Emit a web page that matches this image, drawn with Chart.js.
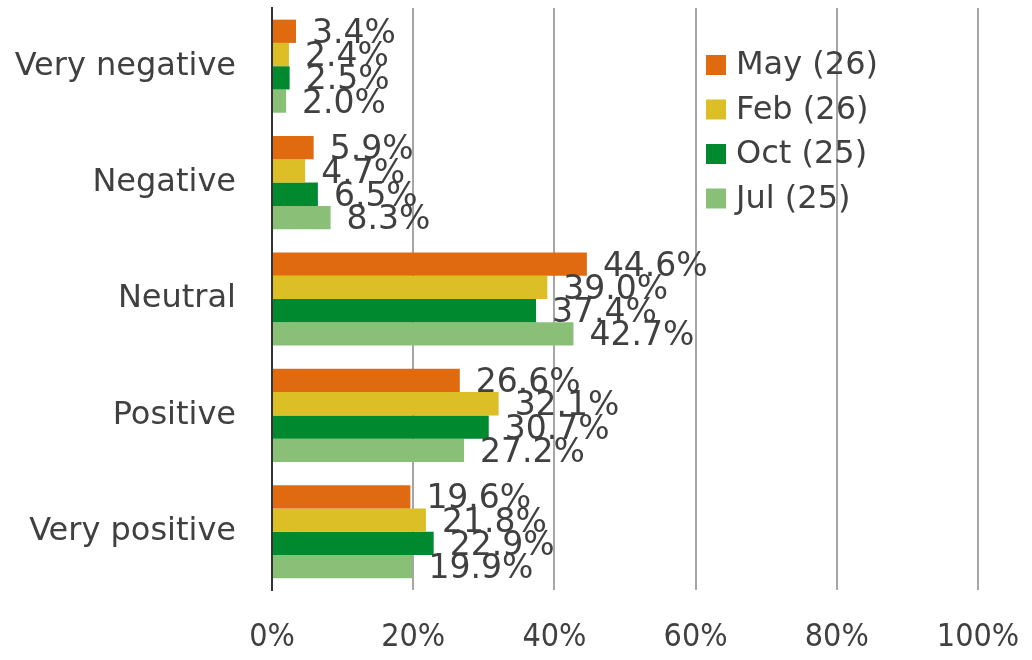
<!DOCTYPE html>
<html>
<head>
<meta charset="utf-8">
<script src="https://cdn.jsdelivr.net/npm/chart.js@4"></script>
<style>
  html, body { margin: 0; padding: 0; background: #fff; }
  #wrap { width: 1032px; height: 660px; }
</style>
</head>
<body>
<div id="wrap"><canvas id="myChart" width="1032" height="660"></canvas></div>
<script>
var categories = ['Very negative', 'Negative', 'Neutral', 'Positive', 'Very positive'];
var seriesNames = ['May (26)', 'Feb (26)', 'Oct (25)', 'Jul (25)'];
var may = [3.4, 5.9, 44.6, 26.6, 19.6];
var feb = [2.4, 4.7, 39.0, 32.1, 21.8];
var oct = [2.5, 6.5, 37.4, 30.7, 22.9];
var jul = [2.0, 8.3, 42.7, 27.2, 19.9];
var xTickValues = [0, 20, 40, 60, 80, 100];

var colors = ['#E06A10', '#DCBE26', '#00892F', '#8ABF78'];
var textColor = '#404040';

// value labels at the end of each bar
var barLabels = {
    id: 'barLabels',
    afterDatasetsDraw: function(chart) {
        var ctx = chart.ctx;
        ctx.save();
        ctx.font = '33px "DejaVu Sans"';
        ctx.fillStyle = textColor;
        ctx.textAlign = 'left';
        ctx.textBaseline = 'middle';
        chart.data.datasets.forEach(function(ds, i) {
            var meta = chart.getDatasetMeta(i);
            meta.data.forEach(function(el, j) {
                ctx.fillText(ds.data[j].toFixed(1) + '%', el.x + 16, el.y + 3);
            });
        });
        ctx.restore();
    }
};

// legend drawn inside the plot, top right
var insideLegend = {
    id: 'insideLegend',
    afterDraw: function(chart) {
        var ctx = chart.ctx;
        ctx.save();
        ctx.font = '32px "DejaVu Sans"';
        ctx.textAlign = 'left';
        ctx.textBaseline = 'middle';
        chart.data.datasets.forEach(function(ds, i) {
            var y = 65 + i * 44.5;
            ctx.fillStyle = ds.backgroundColor;
            ctx.fillRect(706, y - 10, 20, 20);
            ctx.fillStyle = textColor;
            ctx.fillText(ds.label, 736, y + 1);
        });
        ctx.restore();
    }
};

function noPad(scale) {
    scale.paddingTop = 0;
    scale.paddingBottom = 0;
    scale.paddingLeft = 0;
    scale.paddingRight = 0;
}

var seriesData = [may, feb, oct, jul];
var datasets = [];
for (var i = 0; i < seriesNames.length; i++) {
    datasets.push({
        label: seriesNames[i],
        data: seriesData[i],
        backgroundColor: colors[i],
        borderWidth: 0,
        barPercentage: 1,
        categoryPercentage: 0.8
    });
}

var ctx = document.getElementById('myChart').getContext('2d');
var chart = new Chart(ctx, {
    type: 'bar',
    data: {
        labels: categories,
        datasets: datasets
    },
    options: {
        indexAxis: 'y',
        responsive: false,
        animation: false,
        layout: { padding: { top: 8, right: 54, left: 0, bottom: 0 } },
        plugins: {
            legend: { display: false },
            tooltip: { enabled: false }
        },
        scales: {
            x: {
                min: 0,
                max: 100,
                afterBuildTicks: function(scale) {
                    scale.ticks = xTickValues.map(function(v) { return { value: v }; });
                },
                afterFit: function(scale) { scale.height = 70; noPad(scale); },
                ticks: {
                    callback: function(v) { return v + '%'; },
                    color: textColor,
                    font: { family: '"DejaVu Sans Condensed"', size: 32 },
                    padding: 28,
                    maxRotation: 0
                },
                grid: {
                    drawTicks: false,
                    lineWidth: 2,
                    color: function(c) { return c.tick && c.tick.value === 0 ? 'rgba(0,0,0,0)' : '#A6A6A6'; }
                },
                border: { display: false }
            },
            y: {
                afterFit: function(scale) { scale.width = 272; noPad(scale); },
                ticks: {
                    color: textColor,
                    font: { family: '"DejaVu Sans"', size: 32 },
                    padding: 36
                },
                grid: { display: false, drawTicks: false },
                border: { display: true, color: '#333333', width: 2 }
            }
        }
    },
    plugins: [barLabels, insideLegend]
});
</script>
</body>
</html>
